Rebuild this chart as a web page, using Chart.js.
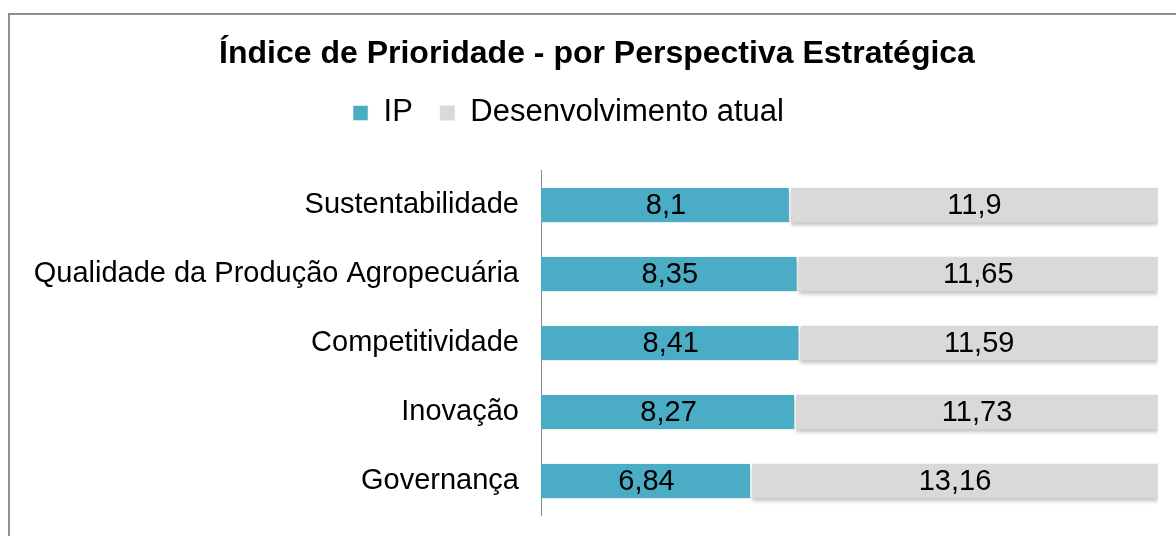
<!DOCTYPE html>
<html>
<head>
<meta charset="utf-8">
<script src="https://cdn.jsdelivr.net/npm/chart.js@4/dist/chart.umd.min.js"></script>
<style>
  html, body { margin: 0; padding: 0; background: #fff; overflow: hidden; }
  #wrap { position: relative; width: 1176px; height: 536px; }
  #frame {
    position: absolute; left: 8px; top: 13px; width: 1300px; height: 700px;
    border-left: 2px solid #8e8e8e; border-top: 2px solid #8e8e8e;
    pointer-events: none;
  }
</style>
</head>
<body>
<div id="wrap">
  <canvas id="chart" width="1176" height="536"></canvas>
  <div id="frame"></div>
</div>
<script>
// Data
const categories = ['Sustentabilidade', 'Qualidade da Produção Agropecuária', 'Competitividade', 'Inovação', 'Governança'];
const ipValues = [8.1, 8.35, 8.41, 8.27, 6.84];
const devValues = [11.9, 11.65, 11.59, 11.73, 13.16];
const seriesNames = ['IP', 'Desenvolvimento atual'];

const FONT = "'Liberation Sans', Arial, sans-serif";

// value labels inside each segment, with comma decimals
const barLabels = {
    id: 'barLabels',
    afterDatasetsDraw(chart) {
        const ctx = chart.ctx;
        ctx.save();
        ctx.font = '29px ' + FONT;
        ctx.fillStyle = '#000';
        ctx.textAlign = 'center';
        ctx.textBaseline = 'middle';
        chart.data.datasets.forEach((ds, i) => {
            chart.getDatasetMeta(i).data.forEach((bar, j) => {
                const txt = String(ds.data[j]).replace('.', ',');
                ctx.fillText(txt, (bar.x + bar.base) / 2, bar.y + 1);
            });
        });
        ctx.restore();
    }
};

// soft shadow under the bars
const barShadow = {
    id: 'barShadow',
    beforeDatasetDraw(chart) {
        const ctx = chart.ctx;
        ctx.save();
        ctx.shadowColor = 'rgba(0,0,0,0.25)';
        ctx.shadowBlur = 4;
        ctx.shadowOffsetY = 3;
    },
    afterDatasetDraw(chart) {
        chart.ctx.restore();
    }
};

// nudge title and legend to where they sit in the original
const boxShift = {
    id: 'boxShift',
    afterLayout(chart) {
        const t = chart.titleBlock;
        t.left += 9; t.right += 9;
        const lg = chart.legend;
        lg.left -= 19.5; lg.right -= 19.5;
        lg.top -= 32; lg.bottom -= 32;
    }
};

const ctx = document.getElementById('chart').getContext('2d');
new Chart(ctx, {
    type: 'bar',
    data: {
        labels: categories,
        datasets: [
            {
                label: seriesNames[0],
                data: ipValues,
                backgroundColor: '#4bacc6',
                borderColor: '#ffffff',
                borderWidth: { right: 2, top: 0, bottom: 0, left: 0 },
                borderSkipped: false,
                categoryPercentage: 1,
                barPercentage: 0.5
            },
            {
                label: seriesNames[1],
                data: devValues,
                backgroundColor: '#d9d9d9',
                borderWidth: 0,
                categoryPercentage: 1,
                barPercentage: 0.5
            }
        ]
    },
    options: {
        indexAxis: 'y',
        responsive: false,
        animation: false,
        layout: { padding: { left: 18, right: 18, top: 0, bottom: 20.5 } },
        plugins: {
            title: {
                display: true,
                text: 'Índice de Prioridade - por Perspectiva Estratégica',
                color: '#000',
                font: { family: FONT, size: 32, weight: 'bold' },
                padding: { top: 35, bottom: 29 }
            },
            legend: {
                position: 'top',
                labels: {
                    color: '#000',
                    font: { family: FONT, size: 31 },
                    boxWidth: 15,
                    boxHeight: 15,
                    padding: 27
                }
            },
            tooltip: { enabled: false }
        },
        scales: {
            x: {
                display: false,
                stacked: true,
                min: 0,
                max: 20
            },
            y: {
                stacked: true,
                grid: { display: false },
                border: { display: true, color: '#8a8a8a', width: 1 },
                ticks: {
                    color: '#000',
                    padding: 14,
                    font: { family: FONT, size: 29 }
                },
                afterFit(scale) {
                    scale.width = 541 - 18;
                    scale.paddingTop = 0;
                    scale.paddingBottom = 0;
                }
            }
        }
    },
    plugins: [barShadow, barLabels, boxShift]
});
</script>
</body>
</html>
